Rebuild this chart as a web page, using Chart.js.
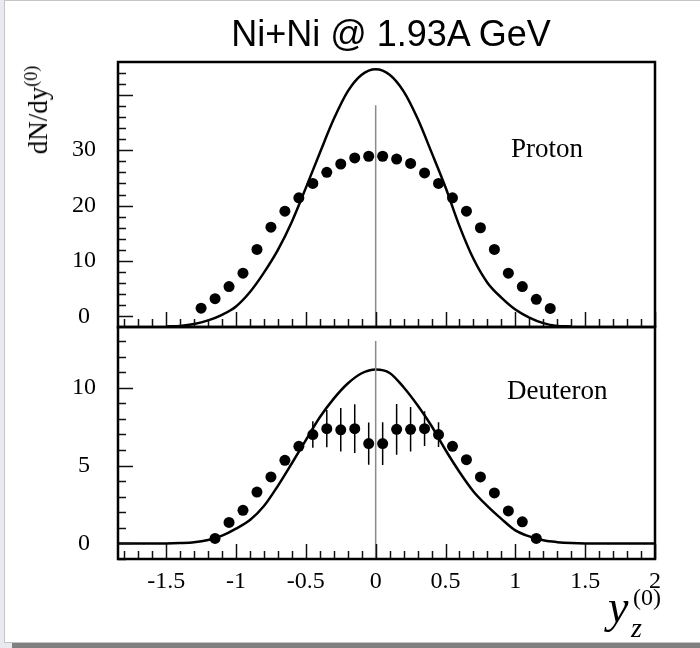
<!DOCTYPE html>
<html>
<head>
<meta charset="utf-8">
<script src="https://cdn.jsdelivr.net/npm/chart.js@4.4.1/dist/chart.umd.min.js"></script>
<style>
  body { margin: 0; width: 700px; height: 648px; background: #e9e9f2; position: relative; overflow: hidden; }
  #page { position: absolute; left: 4px; top: 0; width: 696px; height: 643px; background: #fff;
          border-left: 1px solid #c4c4c4; border-top: 1px solid #c4c4c4; border-bottom: 1px solid #c4c4c4; box-sizing: border-box; }
  #bar { position: absolute; left: 12px; top: 643px; width: 688px; height: 5px; background: #808080; }
  canvas { position: absolute; left: 0; }
  #cTop { top: 0; }
  #cBot { top: 320px; }
  .t { position: absolute; line-height: 1; white-space: nowrap; color: #000; }
  .serif { font-family: "Liberation Serif", "DejaVu Serif", serif; }
  #title { left: 391px; top: 13px; transform: translateX(-50%); font: 36px "Liberation Sans", Arial, sans-serif; }
  #ylab { left: 37px; top: 110px; transform: translate(-50%, -50%) rotate(-90deg); font-size: 27px; }
  #ylab sup { font-size: 18px; vertical-align: 10px; }
</style>
</head>
<body>
<div id="page"></div>
<div id="bar"></div>
<canvas id="cTop" width="700" height="340"></canvas>
<canvas id="cBot" width="700" height="328"></canvas>

<div id="title" class="t">Ni+Ni @ 1.93A GeV</div>
<div id="ylab" class="t serif">dN/dy<sup>(0)</sup></div>
<div class="t serif" style="left:511px; top:135px; font-size:27px;">Proton</div>
<div class="t serif" style="left:507px; top:377px; font-size:27px;">Deuteron</div>
<div class="t serif" style="left:608px; top:584px; font-size:46px; font-style:italic;">y</div>
<div class="t serif" style="left:633px; top:585px; font-size:24px;">(0)</div>
<div class="t serif" style="left:631px; top:614px; font-size:28px; font-style:italic;">z</div>

<script>
// proton data points
const protonX = [-1.25, -1.15, -1.05, -0.95, -0.85, -0.75, -0.65, -0.55, -0.45, -0.35, -0.25, -0.15, -0.05,
                 0.05, 0.15, 0.25, 0.35, 0.45, 0.55, 0.65, 0.75, 0.85, 0.95, 1.05, 1.15, 1.25];
const protonY = [1.5, 3.2, 5.4, 7.8, 12.1, 16.1, 19.0, 21.4, 24.0, 26.0, 27.5, 28.6, 28.9,
                 28.9, 28.4, 27.6, 25.9, 24.0, 21.4, 19.0, 16.0, 12.1, 7.8, 5.4, 3.1, 1.45];

// proton model curve
const protonCurveX = [-1.5, -1.4, -1.3, -1.2, -1.1, -1.0, -0.9, -0.8, -0.7, -0.6, -0.5, -0.4, -0.3, -0.2, -0.1, 0,
                      0.1, 0.2, 0.3, 0.4, 0.5, 0.6, 0.7, 0.8, 0.9, 1.0, 1.1, 1.2, 1.3, 1.4];
const protonCurveY = [-1.8, -1.7, -1.35, -0.7, 0.3, 1.8, 4.4, 7.9, 12.0, 17.1, 23.2, 29.5, 35.6, 40.6, 43.6, 44.6,
                      43.6, 40.6, 35.7, 29.6, 23.3, 16.3, 10.4, 6.1, 3.4, 1.25, -0.2, -1.2, -1.7, -1.8];

// deuteron data points with errors
const deuteronX = [-1.15, -1.05, -0.95, -0.85, -0.75, -0.65, -0.55, -0.45, -0.35, -0.25, -0.15, -0.05,
                   0.05, 0.15, 0.25, 0.35, 0.45, 0.55, 0.65, 0.75, 0.85, 0.95, 1.05, 1.15];
const deuteronY = [0.32, 1.35, 2.13, 3.3, 4.27, 5.34, 6.24, 6.99, 7.37, 7.3, 7.37, 6.41,
                   6.41, 7.33, 7.33, 7.37, 6.99, 6.24, 5.38, 4.27, 3.24, 2.09, 1.39, 0.32];
const deuteronErr = [0, 0, 0, 0, 0, 0, 0, 0.85, 1.2, 1.4, 1.57, 1.35,
                     1.37, 1.63, 1.43, 1.12, 0.8, 0, 0, 0, 0, 0, 0, 0];

// deuteron model curve
const deuteronCurveX = [-1.85, -1.5, -1.4, -1.3, -1.2, -1.1, -1.0, -0.9, -0.8, -0.7, -0.6, -0.5, -0.4, -0.3, -0.2, -0.1, 0,
                        0.1, 0.2, 0.3, 0.4, 0.5, 0.6, 0.7, 0.8, 0.9, 1.0, 1.1, 1.2, 1.3, 1.4, 1.5, 2.0];
const deuteronCurveY = [0, 0, 0.02, 0.07, 0.22, 0.5, 0.95, 1.5, 2.4, 3.7, 5.15, 6.64, 8.1, 9.3, 10.27, 10.93, 11.17,
                        10.95, 10.03, 8.87, 7.54, 6.0, 4.59, 3.34, 2.4, 1.58, 0.84, 0.45, 0.2, 0.08, 0.02, 0, 0];

// vertical reference line at y_z = 0
const zeroLineTop = [38.1, -1.9];
const zeroLineBot = [13.0, -1.0];

const xTicks = [-1.5, -1, -0.5, 0, 0.5, 1, 1.5, 2];
const yTopTicks = [0, 10, 20, 30];
const yBotTicks = [0, 5, 10];

const pts = (xs, ys) => xs.map((x, i) => ({ x: x, y: ys[i] }));
const serif = '"Liberation Serif", "DejaVu Serif", serif';

// box frame + inward ticks, ROOT style
const framePlugin = {
  id: 'frame',
  afterDatasetsDraw(chart, args, opts) {
    const { ctx, chartArea: a, scales: { x, y } } = chart;
    ctx.save();
    ctx.strokeStyle = '#111';
    ctx.lineWidth = 1.5;
    ctx.beginPath();
    for (let k = Math.ceil(x.min * 10); k <= Math.floor(x.max * 10); k++) {
      const px = Math.round(x.getPixelForValue(k / 10)) + 0.5;
      const len = k % 5 === 0 ? 15 : 8;
      ctx.moveTo(px, a.bottom);
      ctx.lineTo(px, a.bottom - len);
    }
    for (let k = Math.ceil(y.min / opts.minor); k * opts.minor <= y.max; k++) {
      const v = k * opts.minor;
      const py = Math.round(y.getPixelForValue(v)) + 0.5;
      const len = Math.abs(v % opts.major) < 1e-9 ? 15 : 8;
      ctx.moveTo(a.left, py);
      ctx.lineTo(a.left + len, py);
    }
    ctx.stroke();
    ctx.lineWidth = 2.5;
    ctx.strokeStyle = '#000';
    ctx.strokeRect(a.left, a.top, a.right - a.left, a.bottom - a.top);
    ctx.restore();
  }
};

const errorBars = {
  id: 'errorBars',
  beforeDatasetsDraw(chart, args, opts) {
    if (!opts.err) return;
    const { ctx, scales: { x, y } } = chart;
    ctx.save();
    ctx.strokeStyle = '#000';
    ctx.lineWidth = 1.5;
    ctx.beginPath();
    opts.xs.forEach((v, i) => {
      const e = opts.err[i];
      if (!e) return;
      const px = x.getPixelForValue(v);
      ctx.moveTo(px, y.getPixelForValue(opts.ys[i] - e));
      ctx.lineTo(px, y.getPixelForValue(opts.ys[i] + e));
    });
    ctx.stroke();
    ctx.restore();
  }
};

function makePanel(id, cfg) {
  return new Chart(document.getElementById(id), {
    type: 'scatter',
    data: {
      datasets: [
        { data: pts([0, 0], cfg.zero), showLine: true, borderColor: '#8a8a8a', borderWidth: 1.5, pointRadius: 0 },
        { data: pts(cfg.curveX, cfg.curveY), showLine: true, borderColor: '#000', borderWidth: 2.5,
          pointRadius: 0, cubicInterpolationMode: 'monotone' },
        { data: pts(cfg.xs, cfg.ys), pointRadius: 5.5, backgroundColor: '#000', borderColor: '#000', borderWidth: 0 }
      ]
    },
    options: {
      responsive: false,
      animation: false,
      devicePixelRatio: 1,
      layout: { padding: cfg.padding },
      scales: {
        x: {
          type: 'linear', min: -1.845, max: 2.0,
          display: cfg.showX,
          afterBuildTicks: s => { s.ticks = xTicks.map(v => ({ value: v })); },
          afterFit: s => { if (cfg.showX) s.height = 89; s.paddingLeft = 0; s.paddingRight = 0; },
          grid: { display: false, drawTicks: false },
          border: { display: false },
          ticks: { color: '#000', padding: 8, maxRotation: 0, autoSkip: false,
                   font: { family: serif, size: 24 }, callback: v => String(v) }
        },
        y: {
          type: 'linear', min: cfg.yMin, max: cfg.yMax,
          afterBuildTicks: s => { s.ticks = cfg.yTicks.map(v => ({ value: v })); },
          afterFit: s => { s.width = 118; s.paddingTop = 0; s.paddingBottom = 0; },
          grid: { display: false, drawTicks: false },
          border: { display: false },
          ticks: { color: '#000', padding: 22, crossAlign: 'center',
                   font: { family: serif, size: 24 }, callback: v => String(v) }
        }
      },
      plugins: {
        legend: { display: false },
        tooltip: { enabled: false },
        frame: { major: cfg.major, minor: cfg.minor },
        errorBars: { xs: cfg.xs, ys: cfg.ys, err: cfg.err }
      }
    },
    plugins: [framePlugin, errorBars]
  });
}

makePanel('cTop', {
  xs: protonX, ys: protonY, curveX: protonCurveX, curveY: protonCurveY, zero: zeroLineTop,
  yMin: -1.9, yMax: 45.9, yTicks: yTopTicks, major: 10, minor: 2, showX: false,
  padding: { left: 0, right: 45, top: 62, bottom: 13 }
});

makePanel('cBot', {
  xs: deuteronX, ys: deuteronY, err: deuteronErr, curveX: deuteronCurveX, curveY: deuteronCurveY, zero: zeroLineBot,
  yMin: -1.0, yMax: 13.9, yTicks: yBotTicks, major: 5, minor: 1, showX: true,
  padding: { left: 0, right: 45, top: 7, bottom: 0 }
});
</script>
</body>
</html>
